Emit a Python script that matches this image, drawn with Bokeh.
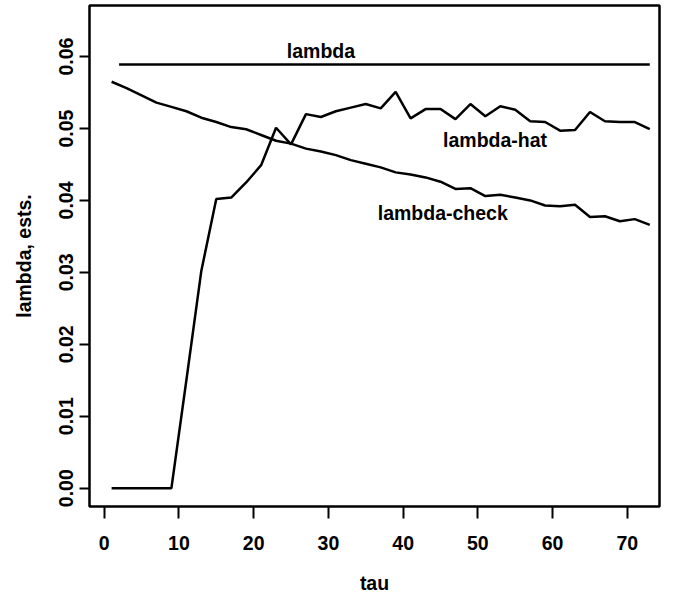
from bokeh.plotting import figure
from bokeh.models import Range1d, FixedTicker, PrintfTickFormatter, Label
from bokeh.embed import file_html
from bokeh.resources import INLINE

# ---- data ----
tau = [1, 3, 5, 7, 9, 11, 13, 15, 17, 19, 21, 23, 25, 27, 29, 31, 33, 35, 37,
       39, 41, 43, 45, 47, 49, 51, 53, 55, 57, 59, 61, 63, 65, 67, 69, 71, 73]

lambda_hat = [0.0, 0.0, 0.0, 0.0, 0.0, 0.0150, 0.0302, 0.0402, 0.0404, 0.0425,
              0.0449, 0.0501, 0.0478, 0.0520, 0.0516, 0.0524, 0.0529, 0.0534,
              0.0528, 0.0551, 0.0514, 0.0527, 0.0527, 0.0513, 0.0534, 0.0517,
              0.0531, 0.0526, 0.0510, 0.0509, 0.0497, 0.0498, 0.0523, 0.0510,
              0.0509, 0.0509, 0.0499]

lambda_check = [0.0565, 0.0556, 0.0546, 0.0536, 0.0530, 0.0524, 0.0515, 0.0509,
                0.0502, 0.0499, 0.0491, 0.0483, 0.0479, 0.0472, 0.0468, 0.0463,
                0.0456, 0.0451, 0.0446, 0.0439, 0.0436, 0.0432, 0.0426, 0.0416,
                0.0417, 0.0406, 0.0408, 0.0404, 0.0400, 0.0393, 0.0392, 0.0394,
                0.0377, 0.0378, 0.0371, 0.0374, 0.0366]

lambda_x = [2, 73]
lambda_true = [0.0589, 0.0589]

x_ticks = [0, 10, 20, 30, 40, 50, 60, 70]
y_ticks = [0.00, 0.01, 0.02, 0.03, 0.04, 0.05, 0.06]

# text annotations: (label, x, y)
annotations = [("lambda", 29, 0.0608),
               ("lambda-hat", 52.3, 0.0484),
               ("lambda-check", 45.3, 0.0383)]

FONT = "Liberation Sans"
FS = "19.5px"

p = figure(width=661, height=598, output_backend="svg", toolbar_location=None,
           x_range=Range1d(-1.96, 74.3), y_range=Range1d(-0.00255, 0.0671),
           min_border_left=89, min_border_right=2, min_border_top=5,
           min_border_bottom=92)

p.xgrid.grid_line_color = None
p.ygrid.grid_line_color = None
p.outline_line_color = "black"
p.outline_line_width = 2.5
p.background_fill_color = "white"
p.border_fill_color = "white"

LW = 2.5
p.line(lambda_x, lambda_true, line_color="black", line_width=LW)
p.line(tau, lambda_hat, line_color="black", line_width=LW)
p.line(tau, lambda_check, line_color="black", line_width=LW)

for txt, x, y in annotations:
    p.add_layout(Label(x=x, y=y, text=txt, text_align="center",
                       text_baseline="alphabetic", text_font=FONT,
                       text_font_size=FS, text_font_style="bold",
                       text_color="black"))

for ax in (p.xaxis[0], p.yaxis[0]):
    ax.axis_line_color = None
    ax.major_tick_line_color = "black"
    ax.major_tick_line_width = 2
    ax.major_tick_in = 0
    ax.minor_tick_line_color = None
    ax.major_label_text_font = FONT
    ax.major_label_text_font_size = FS
    ax.major_label_text_font_style = "bold"
    ax.major_label_text_color = "black"
    ax.axis_label_text_font = FONT
    ax.axis_label_text_font_size = FS
    ax.axis_label_text_font_style = "bold"
    ax.axis_label_text_color = "black"

p.xaxis.ticker = FixedTicker(ticks=x_ticks)
p.xaxis.major_tick_out = 12
p.xaxis.major_label_standoff = 17
p.xaxis.axis_label = "tau"
p.xaxis.axis_label_standoff = 19

p.yaxis.ticker = FixedTicker(ticks=y_ticks)
p.yaxis.formatter = PrintfTickFormatter(format="%.2f")
p.yaxis.major_tick_out = 10
p.yaxis.major_label_standoff = 6
p.yaxis.major_label_orientation = "vertical"
p.yaxis.axis_label = "lambda, ests."
p.yaxis.axis_label_standoff = 22

open("out.html", "w").write(file_html(p, INLINE))
